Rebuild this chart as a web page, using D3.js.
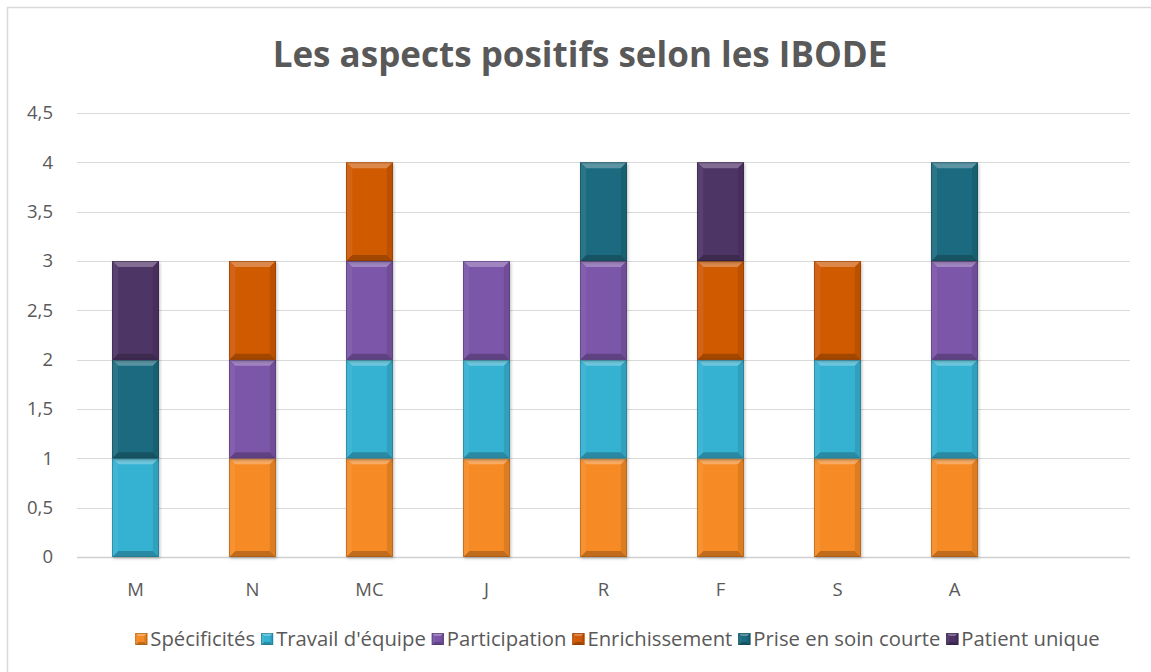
<!DOCTYPE html>
<html><head><meta charset="utf-8">
<script src="https://cdn.jsdelivr.net/npm/d3@7"></script>
<style>body{margin:0;background:#fff}svg{display:block}text{font-family:"Open Sans","Noto Sans",sans-serif}</style>
</head><body>
<svg id="c" width="1151" height="672"></svg>
<script>
const categories = ["M","N","MC","J","R","F","S","A"];
const seriesNames = ["Spécificités","Travail d'équipe","Participation","Enrichissement","Prise en soin courte","Patient unique"];
const specificites   = [0,1,1,1,1,1,1,1];
const travailEquipe  = [1,0,1,1,1,1,1,1];
const participation  = [0,1,1,1,1,0,0,1];
const enrichissement = [0,1,1,0,0,1,1,0];
const priseEnSoin    = [1,0,0,0,1,0,0,1];
const patientUnique  = [1,0,0,0,0,1,0,0];
const yTicks = [0,0.5,1,1.5,2,2.5,3,3.5,4,4.5];
const colors = ["#F68B25","#35B1D1","#7B56A8","#D05A06","#1C6B7F","#4E3466"];

const seriesValues = [specificites,travailEquipe,participation,enrichissement,priseEnSoin,patientUnique];
const rows = categories.map((c,i)=>{const r={cat:c};seriesNames.forEach((s,j)=>r[s]=seriesValues[j][i]);return r;});
const stacked = d3.stack().keys(seriesNames)(rows);

const svg = d3.select("#c");
svg.append("rect").attr("x",7.5).attr("y",7.5).attr("width",1200).attr("height",700).attr("fill","#fff").attr("stroke","#d9d9d9").attr("stroke-width",1.5);

const L=77,R=1130,T=113,B=557;
const x = d3.scaleBand().domain([...categories,"__empty"]).range([L,R]).paddingInner(0.6).paddingOuter(0.3);
const y = d3.scaleLinear().domain([0,4.5]).range([B,T]);

svg.append("g").selectAll("line").data(yTicks).join("line")
  .attr("x1",L).attr("x2",R).attr("y1",d=>Math.round(y(d))+0.5).attr("y2",d=>Math.round(y(d))+0.5)
  .attr("stroke",d=>d===0?"#d0d0d0":"#d9d9d9").attr("stroke-width",d=>d===0?1.5:1);

const fmt = d=>String(d).replace(".",",");
svg.append("g").selectAll("text").data(yTicks).join("text")
  .attr("x",53).attr("y",d=>y(d)).attr("dy","0.35em").attr("text-anchor","end")
  .attr("fill","#595959").style("font-size","18.5px").text(fmt);

svg.append("g").selectAll("text").data(categories).join("text")
  .attr("x",d=>x(d)+x.bandwidth()/2).attr("y",590).attr("dy","0.35em").attr("text-anchor","middle")
  .attr("fill","#595959").style("font-size","18.5px").text(d=>d);

const defs = svg.append("defs");
const filt = defs.append("filter").attr("id","sh").attr("x","-20%").attr("y","-20%").attr("width","140%").attr("height","140%");
filt.append("feDropShadow").attr("dx",1).attr("dy",1.5).attr("stdDeviation",1.5).attr("flood-color","#000").attr("flood-opacity",0.25);

function bevel(g,x0,y0,w,h,col,b){
  g.append("rect").attr("x",x0).attr("y",y0).attr("width",w).attr("height",h).attr("fill",col);
  const lt=d3.interpolateRgb(col,"#fff")(0.28), dk=d3.interpolateRgb(col,"#000")(0.22), sd=d3.interpolateRgb(col,"#000")(0.1), sl=d3.interpolateRgb(col,"#fff")(0.06);
  const poly=(pts,f)=>g.append("polygon").attr("points",pts.map(p=>p.join(",")).join(" ")).attr("fill",f);
  poly([[x0,y0],[x0+w,y0],[x0+w-b,y0+b],[x0+b,y0+b]],lt);
  poly([[x0,y0+h],[x0+w,y0+h],[x0+w-b,y0+h-b],[x0+b,y0+h-b]],dk);
  poly([[x0,y0],[x0+b,y0+b],[x0+b,y0+h-b],[x0,y0+h]],sl);
  poly([[x0+w,y0],[x0+w-b,y0+b],[x0+w-b,y0+h-b],[x0+w,y0+h]],sd);
  g.append("rect").attr("x",x0+0.5).attr("y",y0+0.5).attr("width",w-1).attr("height",h-1).attr("fill","none").attr("stroke",d3.interpolateRgb(col,"#000")(0.35)).attr("stroke-width",0.8).attr("opacity",0.7);
}

const bars = svg.append("g");
stacked.forEach((s,j)=>{
  s.forEach((d,i)=>{
    if(d[1]-d[0]<=0) return;
    const g=bars.append("g").attr("filter","url(#sh)");
    const x0=x(categories[i]), y0=y(d[1]), h=y(d[0])-y(d[1]);
    bevel(g,x0,y0,x.bandwidth(),h,colors[j],6);
  });
});

svg.append("text").attr("x",580).attr("y",67).attr("text-anchor","middle")
  .attr("fill","#595959").style("font-size","35px").style("font-weight","bold").text("Les aspects positifs selon les IBODE");

const lg = svg.append("g");
const items=[]; let cx=0;
const lfs="20.3px";
const tmp = lg.append("text").style("font-size",lfs);
seriesNames.forEach((n,j)=>{tmp.text(n);const tw=tmp.node().getComputedTextLength();items.push({n,j,x:cx,tw});cx+=12+3+tw+6;});
tmp.remove();
const totalW=cx-6; const lx0=(130+1105)/2-totalW/2;
items.forEach(it=>{
  const g=lg.append("g").attr("transform",`translate(${lx0+it.x},639)`);
  bevel(g,0,-6,12,12,colors[it.j],3);
  g.append("text").attr("x",15).attr("y",0).attr("dy","0.35em").attr("fill","#595959").style("font-size",lfs).text(it.n);
});
</script>
</body></html>
